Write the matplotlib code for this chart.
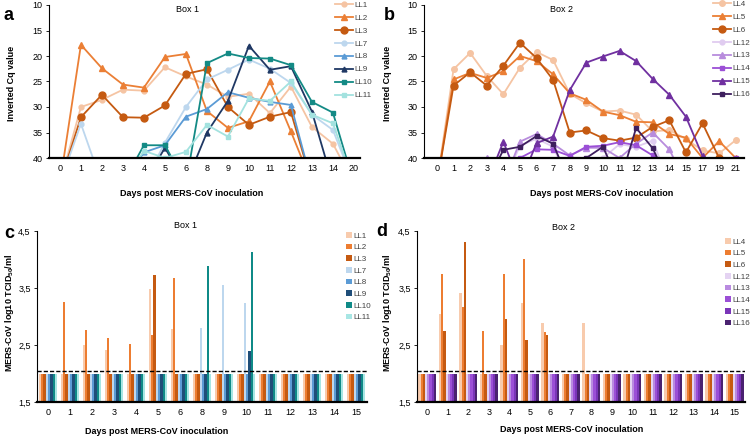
import matplotlib
matplotlib.use('Agg')
import matplotlib.pyplot as plt
import numpy as np

plt.rcParams['font.family'] = ['Liberation Sans', 'DejaVu Sans']
plt.rcParams['mathtext.default'] = 'regular'

ND = 45  # not detected -> drawn below the 40 axis (clipped)

# ---- panel a : Box 1, Cq values ----
days_a = ['0', '1', '2', '3', '4', '5', '6', '8', '9', '10', '11', '12', '13', '14', '20']
names_a = ['LL1', 'LL2', 'LL3', 'LL7', 'LL8', 'LL9', 'LL10', 'LL11']
ll1 = [ND, 30.0, 28.6, 26.6, 26.8, 22.2, 24.0, 25.6, 28.0, 27.4, 31.2, 26.0, 33.9, 37.2, ND]
ll2 = [ND, 17.8, 22.4, 25.6, 26.2, 20.2, 19.6, 30.8, 34.1, 32.8, 25.0, 34.8, ND, ND, ND]
ll3 = [ND, 32.0, 27.6, 32.0, 32.1, 29.7, 23.5, 22.6, 30.0, 33.5, 31.9, 31.0, ND, ND, ND]
ll7 = [ND, 33.3, ND, ND, ND, 37.0, 30.0, 24.6, 22.7, 20.7, 22.5, 25.3, 31.5, 34.5, ND]
ll8 = [ND, ND, ND, ND, 38.9, 37.5, 31.9, 30.4, 27.1, 28.2, 29.0, 29.6, ND, ND, ND]
ll9 = [ND, ND, ND, ND, ND, 38.0, ND, 35.0, 28.8, 18.0, 22.7, 22.0, 30.9, ND, ND]
ll10 = [ND, ND, ND, ND, 37.5, 37.5, ND, 21.4, 19.5, 20.4, 20.5, 21.8, 29.0, 31.1, ND]
ll11 = [ND, ND, ND, ND, 38.6, 40.0, 38.8, 33.5, 35.8, 28.3, 28.8, 25.0, 31.5, 33.2, ND]

# ---- panel b : Box 2, Cq values ----
days_b = ['0', '1', '2', '3', '4', '5', '6', '7', '8', '9', '10', '11', '12', '13', '14', '15', '17', '19', '21']
names_b = ['LL4', 'LL5', 'LL6', 'LL12', 'LL13', 'LL14', 'LL15', 'LL16']
ll4 = [ND, 22.6, 19.4, 23.9, 27.5, 22.3, 19.2, 20.8, 27.4, 29.3, 30.9, 30.7, 31.5, 34.8, 34.5, 36.3, 38.5, 39.1, 36.5]
ll5 = [ND, 24.6, 23.3, 24.3, 23.0, 20.0, 21.0, 23.6, 27.3, 28.6, 30.9, 31.6, 32.9, 33.0, 35.3, 36.0, 40.0, 36.7, 40.0]
ll6 = [ND, 25.8, 23.2, 25.8, 21.9, 17.4, 20.4, 24.7, 35.0, 34.6, 36.1, 36.6, 36.0, 33.9, 32.6, 38.9, 33.2, 40.0, ND]
ll12 = [ND, ND, ND, ND, ND, 37.6, 36.2, 37.8, ND, ND, 40.0, 37.3, 37.8, 36.6, ND, ND, ND, ND, ND]
ll13 = [ND, ND, ND, 40.0, ND, 36.8, 35.3, 37.2, 39.5, 38.0, 38.0, 40.0, 37.2, 35.0, 38.3, ND, ND, ND, ND]
ll14 = [ND, ND, ND, ND, ND, 40.0, 38.3, 38.4, 39.6, 37.8, 37.6, 36.9, 37.5, 39.5, ND, ND, ND, ND, 40.0]
ll15 = [ND, ND, ND, ND, 36.8, ND, 37.1, 35.8, 26.7, 21.3, 20.1, 19.0, 21.0, 24.5, 27.6, 31.9, 39.6, ND, ND]
ll16 = [ND, ND, ND, ND, 38.4, 37.8, 35.7, 37.2, ND, 40.0, 37.8, ND, 34.1, 38.1, ND, ND, ND, ND, ND]

# ---- panel c : Box 1, titres ----
days_c = ['0', '1', '2', '3', '4', '5', '6', '8', '9', '10', '11', '12', '13', '14', '15']
c_ll1 = [2, 2, 2.50, 2.42, 2, 3.48, 2.78, 2, 2, 2, 2, 2, 2, 2, 2]
c_ll2 = [2, 3.26, 2.77, 2.63, 2.52, 2.68, 3.68, 2, 2, 2, 2, 2, 2, 2, 2]
c_ll3 = [2, 2, 2, 2, 2, 3.73, 2, 2, 2, 2, 2, 2, 2, 2, 2]
c_ll7 = [2, 2, 2, 2, 2, 2, 2, 2.80, 3.55, 3.23, 2, 2, 2, 2, 2]
c_ll8 = [2, 2, 2, 2, 2, 2, 2, 2, 2, 2, 2, 2, 2, 2, 2]
c_ll9 = [2, 2, 2, 2, 2, 2, 2, 2, 2, 2.40, 2, 2, 2, 2, 2]
c_ll10 = [2, 2, 2, 2, 2, 2, 2, 3.88, 2, 4.14, 2, 2, 2, 2, 2]
c_ll11 = [2, 2, 2, 2, 2, 2, 2, 2, 2, 2, 2, 2, 2, 2, 2]

# ---- panel d : Box 2, titres ----
days_d = [str(d) for d in range(16)]
d_ll4 = [2, 3.05, 3.41, 2, 2.50, 3.23, 2.88, 2, 2.88, 2, 2, 2, 2, 2, 2, 2]
d_ll5 = [2, 3.74, 3.16, 2.75, 3.74, 4.01, 2.72, 2, 2, 2, 2, 2, 2, 2, 2, 2]
d_ll6 = [2, 2.74, 4.30, 2, 2.96, 2.58, 2.68, 2, 2, 2, 2, 2, 2, 2, 2, 2]
d_ll12 = [2] * 16
d_ll13 = [2] * 16
d_ll14 = [2] * 16
d_ll15 = [2] * 16
d_ll16 = [2] * 16

limit_line = 2.05

cols_a = ['#F5C4A3', '#EB7F35', '#C55A11', '#BDD7EE', '#5B9BD5', '#1F3864', '#138A85', '#A3E2DF']
marks_a = [('o', 3.5), ('^', 4), ('o', 5), ('o', 3.5), ('^', 3.5), ('^', 3.5), ('s', 3.5), ('s', 3.5)]
cols_b = ['#F5C4A3', '#EB7F35', '#C55A11', '#E0CCF0', '#B88CDD', '#9B4FD6', '#7030A0', '#3E1F5E']
marks_b = [('o', 4), ('^', 4), ('o', 5), ('o', 3.5), ('^', 4), ('s', 3.5), ('^', 4), ('s', 3.5)]

W, H = 750, 438
XLAB = 'Days post MERS-CoV inoculation'


def box(l, t, r, b):
    return [l / W, 1 - b / H, (r - l) / W, (b - t) / H]


def ftext(fig, x, y, s, **kw):
    fig.text(x / W, 1 - y / H, s, ha='center', va='center', **kw)


def style(ax):
    for s in ['top', 'right']:
        ax.spines[s].set_visible(False)
    ax.spines['left'].set_linewidth(0.8)
    ax.spines['bottom'].set_linewidth(1.6)
    ax.tick_params(axis='y', direction='out', length=2.5, width=0.6, labelsize=6.5, pad=2)
    ax.tick_params(axis='x', length=0, labelsize=6.5, pad=4)


def line_panel(fig, rect, days, series, names, cols, marks, xlim, leg_xy):
    ax = fig.add_axes(rect)
    x = np.arange(len(days))
    for vals, name, c, (m, ms) in zip(series, names, cols, marks):
        ax.plot(x, vals, color=c, lw=1.3, marker=m, ms=ms, label=name)
    ax.set_ylim(40, 10)
    ax.set_yticks([10, 15, 20, 25, 30, 35, 40])
    ax.set_xticks(x)
    ax.set_xticklabels(days)
    ax.set_xlim(*xlim)
    style(ax)
    ax.legend(loc='upper left', bbox_to_anchor=(leg_xy[0] / W, 1 - leg_xy[1] / H),
              bbox_transform=fig.transFigure, frameon=False, fontsize=5.8,
              handlelength=2.2, handletextpad=0.2, labelspacing=0.66,
              borderpad=0, borderaxespad=0, labelcolor='#404040')
    return ax


def bar_panel(fig, rect, days, series, names, cols, leg_xy):
    ax = fig.add_axes(rect)
    x = np.arange(len(days))
    n = len(series)
    w = 0.86 / n
    for k, (vals, name, c) in enumerate(zip(series, names, cols)):
        v = np.array(vals)
        ax.bar(x - 0.43 + w * (k + 0.5), v - 1.5, bottom=1.5, width=w, color=c, label=name)
    ax.axhline(limit_line, color='k', lw=1.0, ls=(0, (3, 1.5)))
    ax.set_ylim(1.5, 4.5)
    ax.set_yticks([1.5, 2.5, 3.5, 4.5])
    ax.set_yticklabels(['1,5', '2,5', '3,5', '4,5'])
    ax.set_xticks(x)
    ax.set_xticklabels(days)
    ax.set_xlim(-0.5, len(days) - 0.5)
    style(ax)
    ax.legend(loc='upper left', bbox_to_anchor=(leg_xy[0] / W, 1 - leg_xy[1] / H),
              bbox_transform=fig.transFigure, frameon=False, fontsize=5.8,
              handlelength=0.7, handleheight=0.7, handletextpad=0.2, labelspacing=0.5,
              borderpad=0, borderaxespad=0, labelcolor='#404040')
    return ax


def main():
    fig = plt.figure(figsize=(7.5, 4.38), dpi=100)

    line_panel(fig, box(49, 5, 360, 158), days_a,
               [ll1, ll2, ll3, ll7, ll8, ll9, ll10, ll11], names_a, cols_a, marks_a,
               (-0.52, 14.29), (335, 1))
    line_panel(fig, box(424, 5, 744, 158), days_b,
               [ll4, ll5, ll6, ll12, ll13, ll14, ll15, ll16], names_b, cols_b, marks_b,
               (-0.78, 18.5), (713, 0))

    bar_panel(fig, box(37, 231, 367, 402), days_c,
              [c_ll1, c_ll2, c_ll3, c_ll7, c_ll8, c_ll9, c_ll10, c_ll11], names_a,
              ['#F8CBAD', '#ED7D31', '#C55A11', '#BDD7EE', '#5B9BD5', '#1F4E79', '#0F8A87', '#A8E6E4'],
              (346, 232))
    bar_panel(fig, box(417, 231, 745, 402), days_d,
              [d_ll4, d_ll5, d_ll6, d_ll12, d_ll13, d_ll14, d_ll15, d_ll16], names_b,
              ['#F8CBAD', '#ED7D31', '#C55A11', '#E4D3F2', '#B98BE0', '#9B4FD6', '#7A35B8', '#4A2270'],
              (725, 238))

    # titles
    ftext(fig, 187, 10, 'Box 1', fontsize=6.5)
    ftext(fig, 561, 10, 'Box 2', fontsize=6.5)
    ftext(fig, 185, 225, 'Box 1', fontsize=6.5)
    ftext(fig, 563, 227, 'Box 2', fontsize=6.5)

    # axis labels
    bold = dict(fontsize=6.5, fontweight='bold')
    ftext(fig, 192, 194, XLAB, **bold)
    ftext(fig, 602, 194, XLAB, **bold)
    ftext(fig, 157, 431, XLAB, **bold)
    ftext(fig, 572, 430, XLAB, **bold)
    ftext(fig, 12, 83, 'Inverted Cq value', rotation=90, **bold)
    ftext(fig, 387, 83, 'Inverted Cq value', rotation=90, **bold)
    ftext(fig, 10, 313, r'MERS-CoV log10 TCID$_{50}$/ml', rotation=90, **bold)
    ftext(fig, 388, 313, r'MERS-CoV log10 TCID$_{50}$/ml', rotation=90, **bold)

    for txt, x, y in [('a', 4, 15), ('b', 384, 15), ('c', 4, 233), ('d', 376, 232)]:
        fig.text(x / W, 1 - y / H, txt, fontsize=13, fontweight='bold', va='center')

    fig.savefig('out.png', dpi=100)


main()
